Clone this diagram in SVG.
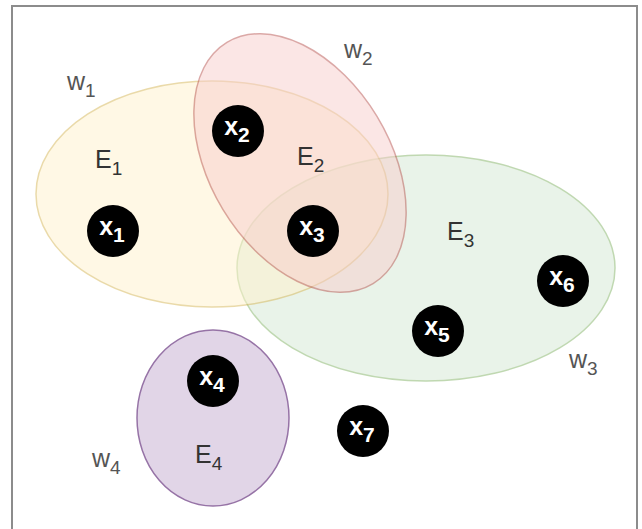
<svg xmlns="http://www.w3.org/2000/svg" width="642" height="529" viewBox="0 0 642 529">
<style>
.set{opacity:0.5;stroke-width:1.5}
.node{fill:#000}
.nl{fill:#fff;font-family:"Liberation Sans",Arial,sans-serif;font-size:25px;font-weight:bold;text-anchor:middle}
.nl .sub{font-size:21px}
.el{fill:#333;font-family:"Liberation Sans",Arial,sans-serif;font-size:25px}
.wl{fill:#555;font-family:"Liberation Sans",Arial,sans-serif;font-size:25px}
.sub{font-size:19px}
</style>
<rect x="0" y="0" width="642" height="529" fill="#fff"/>
<rect x="12" y="6" width="625" height="540" fill="none" stroke="#8c8c8c" stroke-width="2"/>
<g id="E3"><ellipse class="set" cx="426" cy="268" rx="189" ry="113" fill="#d5e8d4" stroke="#82b366"/></g>
<g id="E1"><ellipse class="set" cx="212" cy="194" rx="176" ry="113" fill="#fff2cc" stroke="#d6b656"/></g>
<g id="E2"><ellipse class="set" cx="0" cy="0" rx="141" ry="90" transform="translate(300 163) rotate(58.8)" fill="#f8cecc" stroke="#b85450"/></g>
<g id="E4"><ellipse cx="213" cy="418" rx="76" ry="88" fill="#e1d5e7" stroke="#9673a6" stroke-width="1.5"/></g>
<g id="labels">
<text class="wl" x="67" y="90">w<tspan class="sub" dy="7">1</tspan></text>
<text class="wl" x="344" y="58">w<tspan class="sub" dy="7">2</tspan></text>
<text class="wl" x="569" y="368">w<tspan class="sub" dy="7">3</tspan></text>
<text class="wl" x="92" y="467">w<tspan class="sub" dy="7">4</tspan></text>
<text class="el" x="95" y="168">E<tspan class="sub" dy="7">1</tspan></text>
<text class="el" x="297" y="165">E<tspan class="sub" dy="7">2</tspan></text>
<text class="el" x="447" y="240">E<tspan class="sub" dy="7">3</tspan></text>
<text class="el" x="195" y="463">E<tspan class="sub" dy="7">4</tspan></text>
</g>
<g id="x1"><circle class="node" cx="113" cy="231" r="26"/><text class="nl" x="112" y="235">x<tspan class="sub" dy="7">1</tspan></text></g>
<g id="x2"><circle class="node" cx="238" cy="131" r="26"/><text class="nl" x="237" y="135">x<tspan class="sub" dy="7">2</tspan></text></g>
<g id="x3"><circle class="node" cx="313" cy="231" r="26"/><text class="nl" x="312" y="235">x<tspan class="sub" dy="7">3</tspan></text></g>
<g id="x4"><circle class="node" cx="213" cy="381" r="26"/><text class="nl" x="212" y="385">x<tspan class="sub" dy="7">4</tspan></text></g>
<g id="x5"><circle class="node" cx="438" cy="331" r="26"/><text class="nl" x="437" y="335">x<tspan class="sub" dy="7">5</tspan></text></g>
<g id="x6"><circle class="node" cx="563" cy="281" r="26"/><text class="nl" x="562" y="285">x<tspan class="sub" dy="7">6</tspan></text></g>
<g id="x7"><circle class="node" cx="363" cy="431" r="26"/><text class="nl" x="362" y="435">x<tspan class="sub" dy="7">7</tspan></text></g>
<g id="connectors"></g>
</svg>
